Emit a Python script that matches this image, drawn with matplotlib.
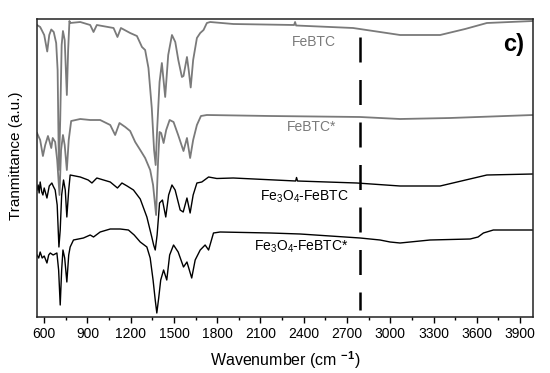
import numpy as np
import matplotlib
matplotlib.use("Agg")
import matplotlib.pyplot as plt

plt.rcParams['font.family'] = ['Liberation Sans', 'DejaVu Sans']
plt.rcParams['mathtext.fontset'] = 'custom'
plt.rcParams['mathtext.rm'] = 'Liberation Sans'
plt.rcParams['mathtext.bf'] = 'Liberation Sans:bold'

# FT-IR spectra, offset vertically (arbitrary units)
febtc_wn = [550, 572, 600, 621, 635, 649, 666, 683, 693, 702, 711, 721, 730, 742, 757, 766, 775,
            780, 850, 919, 942, 965, 1081, 1108, 1132, 1196, 1243, 1278, 1300, 1323, 1346, 1362,
            1373, 1383, 1400, 1416, 1439, 1460, 1486, 1509, 1530, 1555, 1566, 1590, 1602, 1616,
            1633, 1659, 1682, 1705, 1728, 1751, 1911, 2333, 2340, 2347, 2742, 2929, 3068, 3346,
            3519, 3670, 3990]
febtc_t = [292, 290, 282, 265.5, 282, 287.5, 285, 274, 247, 147, 197, 272, 286, 277, 222, 267, 296,
           294, 295, 292, 285, 292, 289, 280, 289, 284, 281, 270, 267, 249, 209, 167,
           152, 187, 235, 254, 220, 262, 282, 275, 257, 240, 241, 260, 247, 229.5,
           257, 279, 284, 287, 294, 295, 293, 292, 295, 291.5, 289, 285, 282, 282,
           288, 294, 296]

febtc2_wn = [550, 572, 591, 607, 626, 638, 649, 659, 676, 690, 706, 717, 730, 742, 757, 770, 787,
             850, 919, 988, 1058, 1092, 1122, 1162, 1196, 1231, 1266, 1300, 1335, 1355, 1376,
             1390, 1400, 1411, 1428, 1446, 1470, 1497, 1529, 1566, 1590, 1612, 1633, 1659,
             1687, 1728, 2167, 2791, 3068, 3415, 3990]
febtc2_t = [184, 177, 161, 172, 181, 175, 169, 179, 175, 157, 122, 167, 182, 172, 147, 177, 196,
            198, 197, 197, 192, 182, 194, 190, 186, 175, 167, 159, 147, 132, 102,
            157, 185, 184, 174, 187, 197, 195, 182, 166, 179, 159, 177, 192,
            201, 202, 201, 200, 198, 199, 202]

fe3o4_wn = [550, 558, 565, 572, 583, 591, 600, 619, 635, 653, 662, 676, 690, 702, 711, 721, 734,
            746, 757, 770, 780, 850, 905, 931, 965, 1058, 1108, 1139, 1175, 1219, 1266, 1312,
            1346, 1359, 1370, 1383, 1400, 1420, 1443, 1463, 1486, 1508, 1543, 1564, 1590, 1612,
            1633, 1659, 1693, 1740, 1797, 1911, 2344, 2350, 2357, 2768, 3068, 3346, 3670, 3990]
fe3o4_t = [127, 132, 124, 135, 125, 122, 129, 119, 131, 134, 131, 127, 112, 70, 87, 122, 137,
           127, 100, 127, 142, 140, 137, 134, 139, 135, 129, 134, 131, 127, 118, 100,
           80, 72, 67, 82, 114, 117, 100, 122, 132, 127, 107, 105, 119, 104,
           122, 134, 135, 140, 138.5, 139, 136, 139.5, 136, 134, 131, 131, 142, 143]

fe3o4b_wn = [550, 562, 572, 586, 600, 619, 631, 642, 662, 688, 700, 711, 721, 730, 742, 757, 770,
             780, 803, 872, 919, 942, 988, 1058, 1127, 1184, 1224, 1266, 1312, 1335, 1355, 1370,
             1381, 1394, 1408, 1428, 1450, 1470, 1497, 1529, 1566, 1590, 1623, 1647, 1682, 1716,
             1740, 1774, 1820, 2167, 2375, 2791, 2929, 2999, 3068, 3276, 3554, 3609, 3646, 3715,
             3990]
fe3o4b_t = [62, 59, 65, 59, 61, 54, 62, 64, 62, 64, 47, 12, 47, 67, 59, 35, 62,
            70, 77, 79, 82, 80, 85, 88, 88, 87, 82, 75, 70, 59, 37, 17,
            4, 19, 37, 47, 37, 62, 72, 65, 50, 55, 39, 57, 67, 72,
            67, 84, 85, 84, 83, 79, 77, 75, 74, 77, 78, 80, 84, 87,
            87]

dash_x = 2790
xticks = [600, 900, 1200, 1500, 1800, 2100, 2400, 2700, 3000, 3300, 3600, 3900]

fig = plt.figure(figsize=(5.5, 3.73), dpi=100)
ax = fig.add_axes([37/550, 56/373, 496/550, 298/373])

gray = '#7a7a7a'
ax.plot(febtc_wn, febtc_t, color=gray, lw=1.3, solid_joinstyle='round')
ax.plot(febtc2_wn, febtc2_t, color=gray, lw=1.3, solid_joinstyle='round')
ax.plot(fe3o4_wn, fe3o4_t, color='black', lw=1.0, solid_joinstyle='round')
ax.plot(fe3o4b_wn, fe3o4b_t, color='black', lw=1.0, solid_joinstyle='round')

ax.plot([dash_x, dash_x], [280, 7], color='black', lw=1.8, dashes=(10, 7))

ax.text(2625, 275, 'FeBTC', color=gray, fontsize=10, ha='right', va='center')
ax.text(2625, 190, 'FeBTC*', color=gray, fontsize=10, ha='right', va='center')
ax.text(2710, 120, r'Fe$_3$O$_4$-FeBTC', color='black', fontsize=10, ha='right', va='center')
ax.text(2710, 70, r'Fe$_3$O$_4$-FeBTC*', color='black', fontsize=10, ha='right', va='center')
ax.text(3930, 272, 'c)', fontsize=17, fontweight='bold', ha='right', va='center')

ax.set_xlim(550, 3990)
ax.set_ylim(0, 298)
ax.set_xticks(xticks)
ax.set_xticks(np.arange(750, 3990, 300), minor=True)
ax.set_yticks([])
ax.tick_params(axis='x', which='major', direction='out', length=4, width=1, labelsize=10, pad=3)
ax.tick_params(axis='x', which='minor', direction='out', length=2.5, width=1)
for s in ax.spines.values():
    s.set_linewidth(1.1)
    s.set_color('#222222')

ax.set_xlabel(r'Wavenumber (cm $^{\mathbf{-1}}$)', fontsize=11.5, labelpad=6)
ax.set_ylabel('Tranmittance (a.u.)', fontsize=11, labelpad=8)
ax.yaxis.set_label_coords(-0.028, 0.54)

fig.savefig('out.png', dpi=100)
